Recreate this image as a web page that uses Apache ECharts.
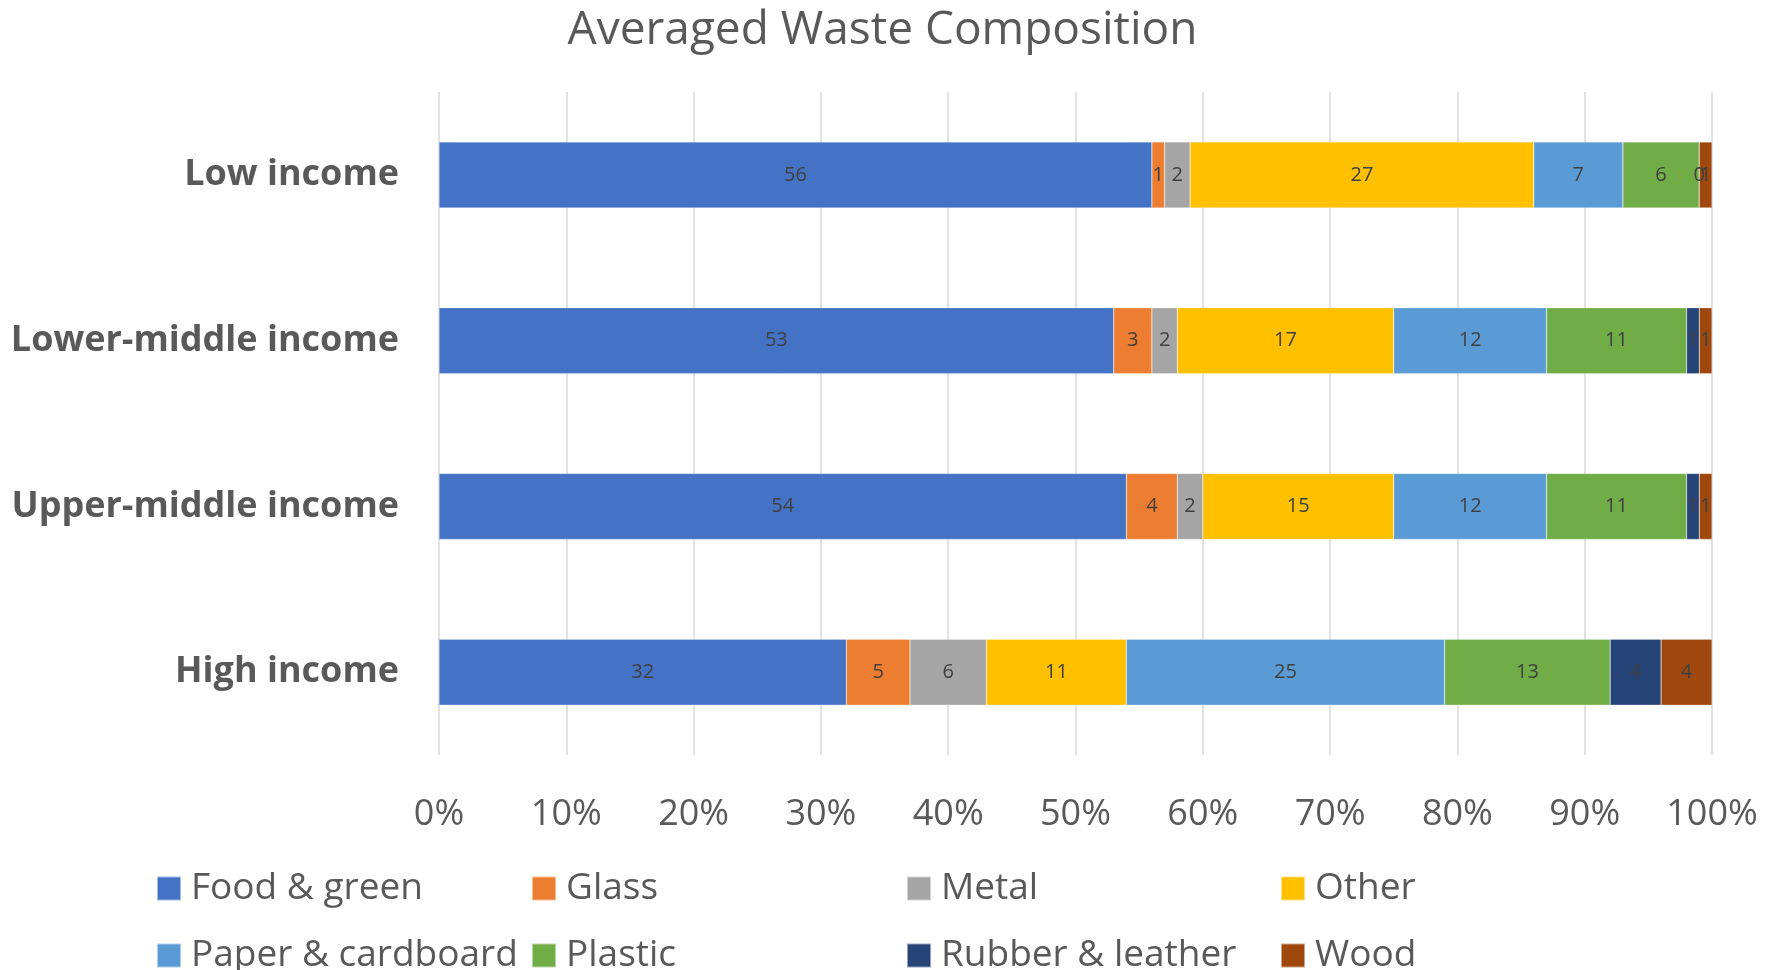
<!DOCTYPE html>
<html>
<head>
<meta charset="utf-8">
<title>Averaged Waste Composition</title>
<script src="https://cdn.jsdelivr.net/npm/echarts@6/dist/echarts.min.js"></script>
<style>
  html, body { margin: 0; padding: 0; background: #ffffff; }
  #chart { width: 1765px; height: 970px; }
</style>
</head>
<body>
<div id="chart"></div>
<script>
// Income groups, top to bottom
const incomeGroups = ['Low income', 'Lower-middle income', 'Upper-middle income', 'High income'];

// Waste share (%) by material for each income group
const foodGreen      = [56, 53, 54, 32];
const glass          = [1, 3, 4, 5];
const metal          = [2, 2, 2, 6];
const other          = [27, 17, 15, 11];
const paperCardboard = [7, 12, 12, 25];
const plastic        = [6, 11, 11, 13];
const rubberLeather  = [0, 1, 1, 4];
const wood           = [1, 1, 1, 4];

const xTickValues = [0, 10, 20, 30, 40, 50, 60, 70, 80, 90, 100];

const materials = [
  { name: 'Food & green',      data: foodGreen,      color: '#4472C4' },
  { name: 'Glass',             data: glass,          color: '#ED7D31' },
  { name: 'Metal',             data: metal,          color: '#A5A5A5' },
  { name: 'Other',             data: other,          color: '#FFC000' },
  { name: 'Paper & cardboard', data: paperCardboard, color: '#5B9BD5' },
  { name: 'Plastic',           data: plastic,        color: '#70AD47' },
  { name: 'Rubber & leather',  data: rubberLeather,  color: '#264478' },
  { name: 'Wood',              data: wood,           color: '#9E480E' }
];

const FONT = '"Open Sans", "Noto Sans", sans-serif';
const TEXT = '#595959';

// Legend grid: four columns, two rows, filled row by row
const legendColumnLefts = [156, 531, 906, 1280];
const legendRowTops = [870, 937];

const chart = echarts.init(document.getElementById('chart'), null, { renderer: 'canvas' });

chart.setOption({
  backgroundColor: '#ffffff',
  animation: false,
  title: {
    text: 'Averaged Waste Composition',
    left: 'center',
    top: 8,
    padding: 0,
    textStyle: { fontFamily: FONT, fontSize: 46, fontWeight: 'normal', color: TEXT }
  },
  legend: materials.map((m, i) => ({
    data: [m.name],
    left: legendColumnLefts[i % 4],
    top: legendRowTops[Math.floor(i / 4)],
    padding: 0,
    itemWidth: 24,
    itemHeight: 24,
    icon: 'rect',
    textStyle: {
      fontFamily: FONT, fontSize: 37, color: TEXT, lineHeight: 37,
      padding: [0, 0, 0, 5]
    }
  })),
  grid: { left: 439, right: 53, top: 92, bottom: 215, containLabel: false },
  xAxis: {
    type: 'value',
    min: 0,
    max: 100,
    interval: 10,
    axisLine: { show: false },
    axisTick: { show: false },
    splitLine: { show: true, lineStyle: { color: '#d9d9d9', width: 1.5 } },
    axisLabel: {
      margin: 42,
      fontFamily: FONT, fontSize: 36, color: TEXT,
      formatter: v => (xTickValues.includes(v) ? v + '%' : '')
    }
  },
  yAxis: {
    type: 'category',
    data: incomeGroups,
    inverse: true,
    axisLine: { show: false },
    axisTick: { show: false },
    splitLine: { show: false },
    axisLabel: {
      margin: 40,
      fontFamily: FONT, fontSize: 36, fontWeight: 'bold', color: TEXT
    }
  },
  series: materials.map(m => ({
    name: m.name,
    type: 'bar',
    stack: 'total',
    data: m.data,
    barWidth: 66,
    itemStyle: { color: m.color, borderColor: 'rgba(255,255,255,0.5)', borderWidth: 0.5 },
    label: {
      show: true,
      position: 'inside',
      fontFamily: FONT, fontSize: 20, color: '#404040'
    },
    emphasis: { disabled: true }
  }))
});
</script>
</body>
</html>
